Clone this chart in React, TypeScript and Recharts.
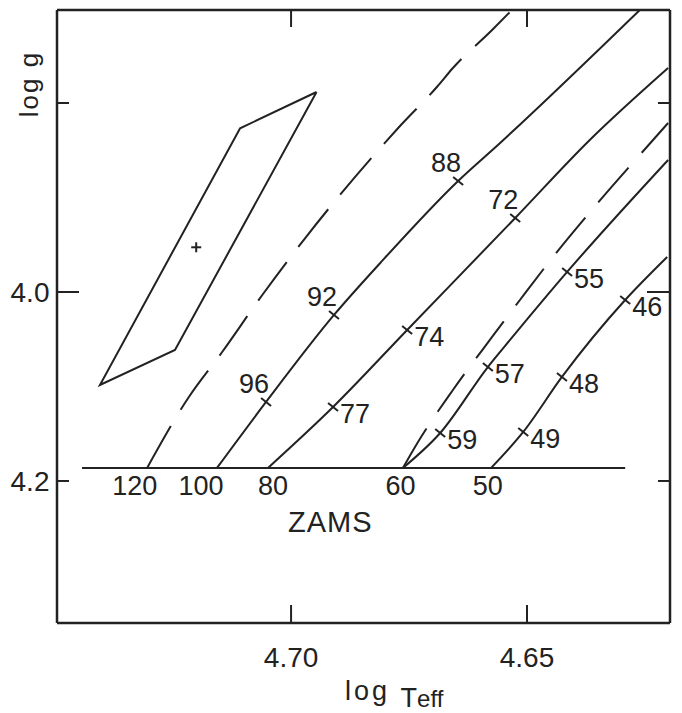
import React from 'react';
import { ComposedChart, Line, Scatter, XAxis, YAxis, Label } from 'recharts';

// ---- axes ----
const xDomain: [number, number] = [4.6197, 4.7496];
const yDomain: [number, number] = [3.7016, 4.3503];
const xTicks = [4.7, 4.65];
const yTicks = [3.8, 4.0, 4.2];
const yTickLabels = ['', '4.0', '4.2'];

// ---- tracks [log Teff, log g] ----
const track120: [number, number][] = [
  [4.7305, 4.1862], [4.7218, 4.1122], [4.7146, 4.0635], [4.7061, 4.0032], [4.697, 3.9429],
  [4.69, 3.8995], [4.6773, 3.8265], [4.6691, 3.7831], [4.6657, 3.763], [4.6574, 3.7228], [4.6532, 3.7016],
];
const track100: [number, number][] = [
  [4.7157, 4.1862], [4.7053, 4.1164], [4.6909, 4.0243], [4.6811, 3.9693], [4.6646, 3.8825],
  [4.6557, 3.8423], [4.6261, 3.7016],
];
const track80: [number, number][] = [
  [4.7049, 4.1862], [4.6911, 4.1217], [4.6754, 4.0402], [4.6525, 3.9217], [4.6367, 3.8392], [4.6201, 3.763],
];
const track60dashed: [number, number][] = [
  [4.6763, 4.1862], [4.6731, 4.1587], [4.6657, 4.1037], [4.6574, 4.0476], [4.6515, 4.0085],
  [4.6445, 3.963], [4.635, 3.9058], [4.6261, 3.855], [4.6201, 3.8212],
];
const track60: [number, number][] = [
  [4.6763, 4.1862], [4.6684, 4.1492], [4.6583, 4.0794], [4.6536, 4.0508], [4.6415, 3.9788], [4.6201, 3.8603],
];
const track50: [number, number][] = [
  [4.6576, 4.1862], [4.6508, 4.1481], [4.6426, 4.0899], [4.6292, 4.0085], [4.6203, 3.963],
];
const zams: [number, number][] = [[4.7443, 4.1862], [4.6292, 4.1862]];

// error box and star
const errorBox: [number, number][] = [
  [4.6946, 3.7884], [4.7108, 3.8268], [4.7405, 4.0984], [4.7246, 4.0614], [4.6946, 3.7884],
];
const star: [number, number][] = [[4.7201, 3.9527]];

// ---- mass marks on tracks ----
const markLabels = ['96', '92', '88', '77', '74', '72', '59', '57', '55', '49', '48', '46'];
const markX = [4.7053, 4.6909, 4.6646, 4.6911, 4.6754, 4.6525, 4.6684, 4.6583, 4.6415, 4.6508, 4.6426, 4.6292];
const markY = [4.1164, 4.0243, 3.8825, 4.1217, 4.0402, 3.9217, 4.1492, 4.0794, 3.9788, 4.1481, 4.0899, 4.0085];
const markSide = ['ul', 'ul', 'ul', 'r', 'r', 'ul', 'r', 'r', 'r', 'r', 'r', 'r'];

// ---- ZAMS initial masses ----
const zamsMassLabels = ['120', '100', '80', '60', '50'];
const zamsMassX = [4.7331, 4.7191, 4.7038, 4.6768, 4.6583];
const zamsMassY = 4.2042;
const zamsText = { label: 'ZAMS', x: 4.6917, y: 4.2434 };

const INK = '#222';
const FONT = '"Liberation Sans", Arial, sans-serif';

const pts = (a: [number, number][]) => a.map(([x, y]) => ({ x, y }));
const markData = markLabels.map((label, i) => ({ x: markX[i], y: markY[i], label, side: markSide[i] }));
const zamsData = zamsMassLabels.map((label, i) => ({ x: zamsMassX[i], y: zamsMassY, label }));

function BottomTick(props: any) {
  const { x, y, payload } = props;
  return (
    <g>
      <line x1={x} x2={x} y1={y} y2={y - 18} stroke={INK} strokeWidth={2} />
      <text x={x} y={y + 34} dy="0.36em" textAnchor="middle" fontSize={28} fill={INK} fontFamily={FONT}>
        {Number(payload.value).toFixed(2)}
      </text>
    </g>
  );
}
function TopTick(props: any) {
  const { x, y } = props;
  return <line x1={x} x2={x} y1={y} y2={y + 17} stroke={INK} strokeWidth={2} />;
}
function LeftTick(props: any) {
  const { x, y, payload, index } = props;
  const len = Math.abs(payload.value - 4.0) < 1e-6 ? 22 : 12;
  return (
    <g>
      <line x1={x} x2={x + len} y1={y} y2={y} stroke={INK} strokeWidth={2} />
      <text x={x - 27} y={y} dy="0.36em" textAnchor="middle" fontSize={28} fill={INK} fontFamily={FONT}>
        {yTickLabels[index] ?? ''}
      </text>
    </g>
  );
}
function RightTick(props: any) {
  const { x, y, payload } = props;
  const len = Math.abs(payload.value - 4.0) < 1e-6 ? 23 : 12;
  return <line x1={x} x2={x - len} y1={y} y2={y} stroke={INK} strokeWidth={2} />;
}

function MassMark(props: any) {
  const { cx, cy, payload } = props;
  const ul = payload.side === 'ul';
  const lx = cx + (ul ? -12 : 22);
  const ly = cy + (ul ? -19 : 6);
  return (
    <g>
      <line x1={cx - 5} y1={cy - 4} x2={cx + 5} y2={cy + 4} stroke={INK} strokeWidth={2} />
      <text x={lx} y={ly} dy="0.36em" textAnchor="middle" fontSize={27} fill={INK} fontFamily={FONT}>
        {payload.label}
      </text>
    </g>
  );
}
function TextMark(props: any) {
  const { cx, cy, payload } = props;
  return (
    <text x={cx} y={cy} dy="0.36em" textAnchor="middle" fontSize={payload.label === 'ZAMS' ? 29 : 27}
      fill={INK} fontFamily={FONT} letterSpacing={payload.label === 'ZAMS' ? 1 : 0}>
      {payload.label}
    </text>
  );
}
function Plus(props: any) {
  const { cx, cy } = props;
  return (
    <g stroke={INK} strokeWidth={2}>
      <line x1={cx - 5} x2={cx + 5} y1={cy} y2={cy} />
      <line x1={cx} x2={cx} y1={cy - 5} y2={cy + 5} />
    </g>
  );
}

const YLabel = () => (
  <text x={30} y={76} transform="rotate(-90 30 76)" textAnchor="middle" fontSize={26}
    fill={INK} fontFamily={FONT} letterSpacing={2}>log g</text>
);
const XLabel = () => (
  <text x={337} y={692} fontSize={27} fill={INK} fontFamily={FONT} letterSpacing={3}>
    log <tspan dy={7} letterSpacing={0}>T</tspan><tspan fontSize={24} letterSpacing={0}>eff</tspan>
  </text>
);

const lineCommon = {
  dataKey: 'y',
  stroke: INK,
  strokeWidth: 2,
  dot: false,
  activeDot: false,
  isAnimationActive: false,
  legendType: 'none' as const,
};

export default function App() {
  return (
    <div style={{ width: 674, height: 705, background: '#fff' }}>
      <ComposedChart width={674} height={705} margin={{ top: 0, right: 0, bottom: 0, left: 0 }}>
        <XAxis xAxisId={0} dataKey="x" type="number" domain={xDomain} reversed allowDataOverflow
          ticks={xTicks} interval={0} tickSize={0} tickMargin={0} tickLine={false} height={90}
          axisLine={{ stroke: INK, strokeWidth: 2.5 }} tick={<BottomTick />}>
          <Label content={<XLabel />} />
        </XAxis>
        <XAxis xAxisId="top" orientation="top" dataKey="x" type="number" domain={xDomain} reversed allowDataOverflow
          ticks={xTicks} interval={0} tickSize={0} tickMargin={0} tickLine={false} height={2}
          axisLine={{ stroke: INK, strokeWidth: 2.5 }} tick={<TopTick />} />
        <YAxis yAxisId={0} dataKey="y" type="number" domain={yDomain} reversed allowDataOverflow
          ticks={yTicks} interval={0} tickSize={0} tickMargin={0} tickLine={false} width={49}
          axisLine={{ stroke: INK, strokeWidth: 2.5 }} tick={<LeftTick />}>
          <Label content={<YLabel />} />
        </YAxis>
        <YAxis yAxisId="right" orientation="right" dataKey="y" type="number" domain={yDomain} reversed allowDataOverflow
          ticks={yTicks} interval={0} tickSize={0} tickMargin={0} tickLine={false} width={12}
          axisLine={{ stroke: INK, strokeWidth: 2.5 }} tick={<RightTick />} />

        <Line {...lineCommon} data={pts(zams)} type="linear" />
        <Line {...lineCommon} data={pts(track120)} type="monotone" strokeDasharray="48 19" />
        <Line {...lineCommon} data={pts(track100)} type="monotone" />
        <Line {...lineCommon} data={pts(track80)} type="monotone" />
        <Line {...lineCommon} data={pts(track60dashed)} type="monotone" strokeDasharray="46 20" />
        <Line {...lineCommon} data={pts(track60)} type="monotone" />
        <Line {...lineCommon} data={pts(track50)} type="monotone" />
        <Line {...lineCommon} data={pts(errorBox)} type="linear" />

        <Scatter data={pts(star)} shape={<Plus />} isAnimationActive={false} legendType="none" />
        <Scatter data={markData} shape={<MassMark />} isAnimationActive={false} legendType="none" />
        <Scatter data={zamsData} shape={<TextMark />} isAnimationActive={false} legendType="none" />
        <Scatter data={[zamsText]} shape={<TextMark />} isAnimationActive={false} legendType="none" />
      </ComposedChart>
    </div>
  );
}
